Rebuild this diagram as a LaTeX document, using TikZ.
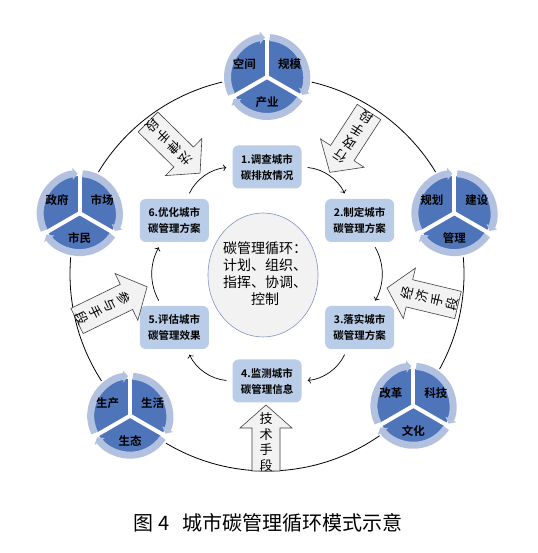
\documentclass[tikz,border=0pt]{standalone}
\usepackage{fontspec}
\setmainfont{Noto Sans CJK SC}[BoldFont={Noto Sans CJK SC Bold}]
\usepackage{xcolor}
\usepackage{tikz}
\usetikzlibrary{arrows}
\usetikzlibrary{arrows.meta}

\definecolor{pieblue}{HTML}{4E74B9}
\definecolor{ringblue}{HTML}{B3C1E1}
\definecolor{boxblue}{HTML}{B9CCE8}
\definecolor{hubgray}{HTML}{F2F2F2}
\definecolor{hubline}{HTML}{8392C4}
\definecolor{shaftgray}{HTML}{404040}

\begin{document}
\begin{tikzpicture}[x=1pt,y=1pt,
	stepbox/.style={fill=boxblue,rounded corners=6pt,minimum width=69pt,minimum height=43pt,align=center,inner sep=1pt,font=\bfseries\fontsize{10.5}{16}\selectfont},
	cyc/.style={->,shorten >=6pt,shorten <=6pt,line width=0.7pt},
	ring/.style={ringblue,line width=7pt,-{Triangle[length=5pt,width=12pt]}},
	pielabel/.style={font=\bfseries\fontsize{11.5}{12}\selectfont},
	handarrow/.style={draw=shaftgray,fill=hubgray,line width=0.6pt},
	handtext/.style={align=center,inner sep=0pt,font=\fontsize{13}{15.5}\selectfont}]
	\useasboundingbox (0,0) rectangle (537,553);
	\coordinate (c) at (267,279);
	\draw[line width=0.8pt] (c) circle (197);
	% hub
	\draw[draw=hubline,fill=hubgray,line width=0.6pt] (263,278) ellipse [x radius=55, y radius=62];
	\node[align=center,font=\fontsize{14}{17}\selectfont] (hub) at (265,279) {碳管理循环：\\计划、组织、\\指挥、协调、\\控制};
	% steps
	\node[stepbox] (b1) at ([shift={(90:107)}]c) {1.调查城市\\碳排放情况};
	\node[stepbox] (b2) at ([shift={(30:107)}]c) {2.制定城市\\碳管理方案};
	\node[stepbox] (b3) at ([shift={(-30:107)}]c) {3.落实城市\\碳管理方案};
	\node[stepbox] (b4) at ([shift={(-90:107)}]c) {4.监测城市\\碳管理信息};
	\node[stepbox] (b5) at ([shift={(210:107)}]c) {5.评估城市\\碳管理效果};
	\node[stepbox] (b6) at ([shift={(150:107)}]c) {6.优化城市\\碳管理方案};
	\draw[cyc] (b1) to[bend left=30] (b2);
	\draw[cyc] (b2) to[bend left=30] (b3);
	\draw[cyc] (b3) to[bend left=30] (b4);
	\draw[cyc] (b4) to[bend left=30] (b5);
	\draw[cyc] (b5) to[bend left=30] (b6);
	\draw[cyc] (b6) to[bend left=30] (b1);
	% means
	\foreach \n/\x/\y/\ang/\len/\txt in {m1/148/431/-44.5/73/法\\律\\手\\段, m2/369/441/-123/72/行\\政\\手\\段, m3/458/248/166.5/73/经\\济\\手\\段, m4/266/82/90/66/技\\术\\手\\段, m5/77/232/26/78/参\\与\\手\\段}{
		\begin{scope}[shift={(\x,\y)},rotate=\ang]
			\draw[handarrow] (0,-14) -- (\len-23,-14) -- (\len-23,-26) -- (\len,0) -- (\len-23,26) -- (\len-23,14) -- (0,14) -- cycle;
			\node[handtext,rotate=\ang-90] (\n) at (29,0) {\txt};
		\end{scope}
	}
	% pies
	\foreach \p/\ang/\ta/\tb/\tc in {p1/90/空间/规模/产业, p2/162/政府/市场/市民, p3/18/规划/建设/管理, p4/226/生产/生活/生态, p5/318/改革/科技/文化}{
		\coordinate (\p) at ([shift={(\ang:197)}]c);
		\begin{scope}[shift={(\p)}]
			\fill[white] (0,0) circle (45);
			\foreach \s in {90,210,330}{
				\fill[pieblue] (0,0) -- (\s:37) arc[start angle=\s, end angle=\s+120, radius=37] -- cycle;
				\draw[ring] (\s+116:39.5) arc[start angle=\s+116, end angle=\s+3, radius=39.5];
			}
			\foreach \s in {90,210,330} \draw[white,line width=4pt] (0,0) -- (\s:47);
			\node[pielabel] (\p-a) at (150:26) {\ta};
			\node[pielabel] (\p-b) at (30:26) {\tb};
			\node[pielabel] (\p-c) at (270:25) {\tc};
		\end{scope}
	}
	\node[font=\fontsize{20}{24}\selectfont] (cap) at (268,30) {图\hspace{5pt}4\hspace{12pt}城市碳管理循环模式示意};
\end{tikzpicture}
\end{document}
